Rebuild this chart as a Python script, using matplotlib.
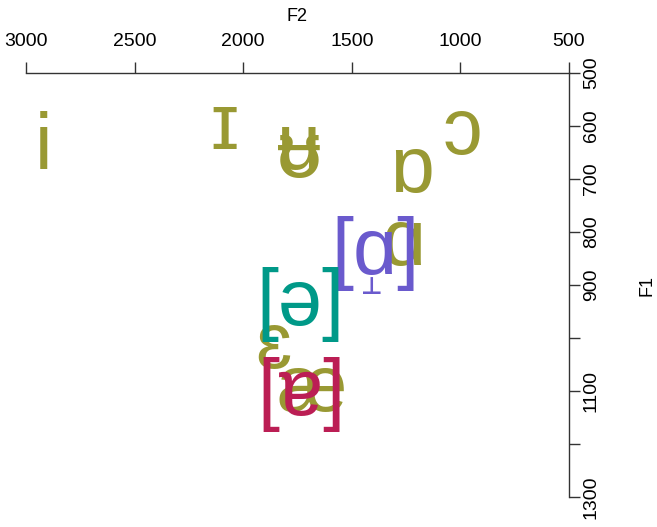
import matplotlib
matplotlib.use('Agg')
import matplotlib.pyplot as plt
from matplotlib.transforms import offset_copy

plt.rcParams['font.family'] = ['Liberation Sans', 'DejaVu Sans']

# formant means (Hz): olive = plain vowel symbols, bracketed ones highlighted
vowels = ['i', 'ɪ', 'ʉ', 'ʊ', 'ɒ', 'ɔ', 'ɑ', 'ɛ', 'æ']
vowel_f2 = [2917, 2088, 1743, 1743, 1223, 993, 1260, 1863, 1683]
vowel_f1 = [642, 604, 643, 658, 685, 615, 823, 1017, 1100]

marked = ['[ɑ]', '[ə]', '[ɐ]']
marked_f2 = [1393, 1739, 1734]
marked_f1 = [840, 936, 1106]
marked_colors = ['#6A5ACD', '#009988', '#BB1E54']
# raised diacritic (up tack) under the first marked vowel
diacritic = '⊥'

x_ticks = [3000, 2500, 2000, 1500, 1000, 500]
y_ticks = [500, 600, 700, 800, 900, 1000, 1100, 1200, 1300]
y_labels = ['500', '600', '700', '800', '900', '', '1100', '', '1300']

W, H = 657, 527
fig = plt.figure(figsize=(W / 100, H / 100), dpi=100)
ax = fig.add_axes([26 / W, 1 - 497 / H, (569 - 26) / W, (497 - 73) / H])

ax.set_xlim(3000, 500)
ax.set_ylim(1300, 500)

for s in ['left', 'bottom']:
    ax.spines[s].set_visible(False)
for s in ['top', 'right']:
    ax.spines[s].set_color('#333333')
    ax.spines[s].set_linewidth(1.0)

ax.xaxis.tick_top()
ax.yaxis.tick_right()
ax.set_xticks(x_ticks)
ax.set_xticklabels([str(v) for v in x_ticks])
ax.set_yticks(y_ticks)
ax.set_yticklabels(y_labels, rotation=90, va='center')
ax.tick_params(axis='both', direction='out', length=8, width=1.0,
               color='#333333', labelsize=14, labelcolor='black')
ax.tick_params(axis='x', pad=8.5)
ax.tick_params(axis='y', pad=2)

ax.xaxis.set_label_position('top')
ax.yaxis.set_label_position('right')
ax.set_xlabel('F2', fontsize=13, labelpad=9)
ax.set_ylabel('F1', fontsize=13, labelpad=28, rotation=90)

for lab, x, y in zip(vowels, vowel_f2, vowel_f1):
    ax.text(x, y, lab, color='#999933', fontsize=57, ha='center', va='center')

for lab, x, y, c in zip(marked, marked_f2, marked_f1, marked_colors):
    ax.text(x, y, lab, color=c, fontsize=57, ha='center', va='center')

tack = offset_copy(ax.transData, fig=fig, x=-2, y=-24, units='points')
ax.text(marked_f2[0], marked_f1[0], diacritic, color=marked_colors[0],
        fontsize=17, fontweight='bold', family='DejaVu Sans',
        ha='center', va='center', transform=tack)

fig.savefig('out.png', dpi=100)
